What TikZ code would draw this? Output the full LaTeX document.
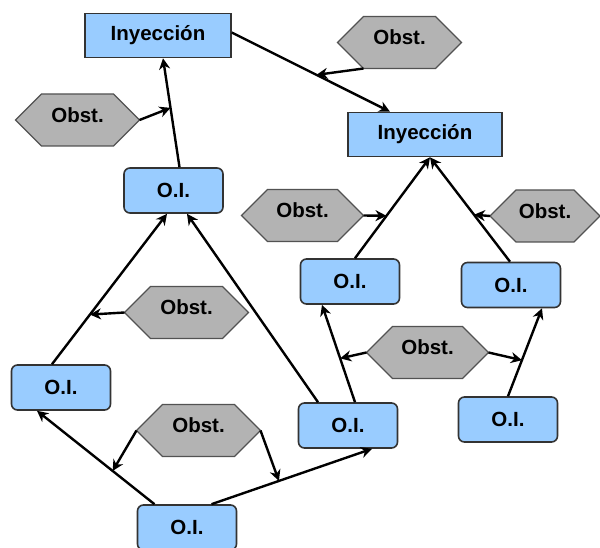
\documentclass[tikz,border=0pt]{standalone}
\usepackage{fontspec}
\setmainfont{Liberation Sans}
\usetikzlibrary{arrows.meta}
\definecolor{boxblue}{HTML}{99CCFF}
\definecolor{hexgray}{HTML}{B3B3B3}
\definecolor{edgec}{HTML}{333333}
\tikzset{
 lbl/.style={font=\fontsize{20.5}{24}\selectfont\bfseries, text=black},
 inybox/.style={lbl, draw=edgec, line width=1.6pt, fill=boxblue, rectangle, minimum height=44pt, inner sep=0pt},
 oibox/.style={lbl, draw=edgec, line width=1.6pt, fill=boxblue, rounded corners=6pt, minimum width=99pt, minimum height=45pt, inner sep=0pt},
 hexshape/.style={draw=edgec!85, line width=1.4pt, fill=hexgray},
 arr/.style={line width=2.4pt, -{Stealth[length=11pt,width=11pt,inset=3.5pt]}},
}
\newcommand\obstnode[4]{%
 \begin{scope}[shift={(#2,#3)}]
 \draw[hexshape] (-#4,0) -- (-#4+26,-26) -- (#4-26,-26) -- (#4,0) -- (#4-26,26) -- (-#4+26,26) -- cycle;
 \node[lbl] (#1) at (0,-5) {Obst.};
 \coordinate (#1-w) at (-#4,0);
 \coordinate (#1-e) at (#4,0);
 \coordinate (#1-sw) at (-#4+26,26);
 \end{scope}}
\begin{document}
\begin{tikzpicture}[x=1pt,y=-1pt]
\useasboundingbox (0,0) rectangle (600,548);
% boxes
\node[inybox, minimum width=146pt] (iny1) at (158,35.5) {Inyección};
\node[inybox, minimum width=154pt] (iny2) at (425,134.5) {Inyección};
\node[oibox] (oi1) at (173.5,190.5) {O.I.};
\node[oibox] (oiL) at (61,387.5) {O.I.};
\node[oibox] (oiB) at (187,527.5) {O.I.};
\node[oibox] (oiM) at (348,425.5) {O.I.};
\node[oibox] (oiA) at (350,281.5) {O.I.};
\node[oibox] (oiC) at (511,285) {O.I.};
\node[oibox] (oiD) at (508,419.5) {O.I.};
% obstacles
\obstnode{hL}{77.5}{120}{62}
\obstnode{hT}{399.5}{42.5}{62}
\obstnode{hM}{186.5}{312.5}{62}
\obstnode{hB}{198.5}{430.5}{62}
\obstnode{hI}{302.5}{215.5}{61}
\obstnode{hR}{545}{216}{55}
\obstnode{hC}{427.5}{352.5}{61}
% connectors
\draw[arr] ([xshift=6pt]oi1.north) -- ([xshift=5pt]iny1.south) coordinate[pos=.545] (m1);
\draw[arr] (hL-e) -- (m1);
\draw[arr] ([yshift=3pt]iny1.east) -- ([xshift=-35pt]iny2.north) coordinate[pos=.535] (m3);
\draw[arr] (hT-sw) -- (m3);
\draw[arr] ([xshift=-9pt]oiL.north) -- ([xshift=-6.5pt]oi1.south) coordinate[pos=.33] (m5);
\draw[arr] (hM-w) -- (m5);
\draw[arr] ([xshift=-30pt]oiM.north) -- ([xshift=13.5pt]oi1.south);
\draw[arr] ([xshift=-32.5pt]oiB.north) -- ([xshift=-24pt]oiL.south) coordinate[pos=.356] (m8);
\draw[arr] ([xshift=24.5pt]oiB.north) -- ([xshift=24pt]oiM.south) coordinate[pos=.42] (m9);
\draw[arr] (hB-w) -- (m8);
\draw[arr] (hB-e) -- (m9);
\draw[arr] ([xshift=7pt]oiM.north) -- ([xshift=-28pt]oiA.south) coordinate[pos=.45] (m12);
\draw[arr] (hC-w) -- (m12);
\draw[arr] (oiD.north) -- ([xshift=31pt]oiC.south) coordinate[pos=.41] (m15);
\draw[arr] (hC-e) -- (m15);
\draw[arr] ([xshift=5pt]oiA.north) -- ([xshift=5pt]iny2.south) coordinate[pos=.42] (m16);
\draw[arr] (hI-e) -- (m16);
\draw[arr] ([xshift=-1pt]oiC.north) -- ([xshift=5pt]iny2.south) coordinate[pos=.45] (m17);
\draw[arr] (hR-w) -- (m17);
\end{tikzpicture}
\end{document}
